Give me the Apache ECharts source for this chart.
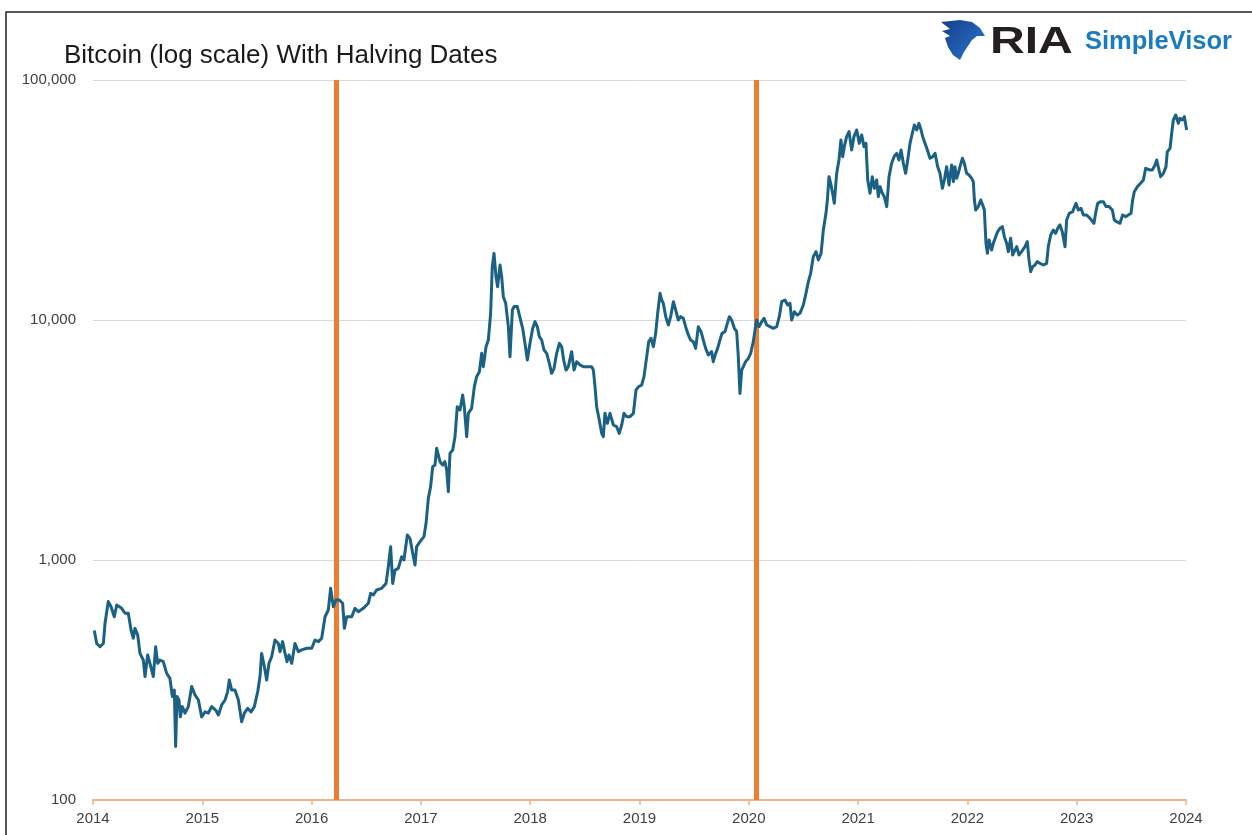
<!DOCTYPE html>
<html>
<head>
<meta charset="utf-8">
<title>Bitcoin (log scale) With Halving Dates</title>
<script src="https://cdn.jsdelivr.net/npm/echarts@6/dist/echarts.min.js"></script>
<style>
  html, body { margin: 0; padding: 0; background: #fff; }
  #chart { width: 1252px; height: 835px; }
</style>
</head>
<body>
<div id="chart"></div>
<script>
// price path (x = position on the year axis)
var dates2014 = [2014.012,2014.034,2014.064,2014.095,2014.110,2014.140,2014.165,2014.195,2014.217,2014.262,2014.293,2014.323,2014.348,2014.369,2014.384,2014.409,2014.430,2014.460,2014.476,2014.500,2014.521,2014.552,2014.573,2014.592,2014.613,2014.643,2014.674,2014.704,2014.726,2014.744,2014.756,2014.769,2014.787,2014.799,2014.817,2014.842,2014.872,2014.903,2014.933,2014.964,2014.994,2015.025,2015.055,2015.086,2015.122,2015.147,2015.177,2015.208,2015.232,2015.247,2015.269,2015.299,2015.330,2015.360,2015.385,2015.415,2015.446,2015.476,2015.507,2015.528,2015.543,2015.568,2015.589,2015.610,2015.635,2015.665,2015.696,2015.711,2015.735,2015.757,2015.775,2015.793,2015.818,2015.848,2015.879,2015.909,2015.955,2016.001,2016.031,2016.062];
var prices2014 = [508,449,435,449,545,671,639,580,649,629,600,600,511,472,519,487,408,383,327,402,371,327,435,371,383,377,337,321,270,287,167,270,261,222,245,230,245,297,274,261,222,233,230,245,237,226,249,261,283,316,287,287,261,212,230,241,233,245,283,327,408,359,316,371,396,464,449,415,457,408,377,402,371,449,415,422,429,429,464,457];

var dates2016 = [2016.092,2016.123,2016.153,2016.174,2016.199,2016.223,2016.254,2016.284,2016.300,2016.321,2016.367,2016.397,2016.428,2016.473,2016.519,2016.540,2016.565,2016.595,2016.641,2016.681,2016.702,2016.723,2016.742,2016.763,2016.793,2016.824,2016.845,2016.876,2016.900,2016.925,2016.946,2016.961,2016.992,2017.028,2017.047,2017.068,2017.089,2017.108,2017.129,2017.144,2017.175,2017.199,2017.220,2017.236,2017.251,2017.266,2017.291,2017.312,2017.333,2017.358,2017.382,2017.397,2017.419,2017.434,2017.464,2017.489,2017.510,2017.535,2017.556,2017.571,2017.596,2017.617,2017.638,2017.653,2017.669,2017.687,2017.702,2017.724,2017.739,2017.754,2017.776,2017.800,2017.815,2017.837,2017.852,2017.882];
var prices2016 = [472,580,619,762,639,681,681,660,519,580,580,629,609,629,660,726,715,750,762,799,938,1136,799,908,923,1032,1000,1271,1231,1066,953,1136,1192,1251,1422,1807,2021,2448,2488,2920,2568,2488,2568,2371,1926,2782,2873,3265,4354,4217,4870,4354,3265,4084,4284,5275,5806,6091,7262,6391,7743,8254,10660,16680,18950,15160,13770,16950,15160,12510,11730,9380,7035,11010,11370,11370];

var dates2018 = [2017.931,2017.952,2017.974,2017.998,2018.023,2018.044,2018.065,2018.084,2018.105,2018.126,2018.151,2018.175,2018.196,2018.218,2018.242,2018.267,2018.288,2018.309,2018.328,2018.349,2018.379,2018.401,2018.425,2018.456,2018.486,2018.517,2018.562,2018.578,2018.593,2018.608,2018.632,2018.654,2018.669,2018.684,2018.706,2018.730,2018.761,2018.791,2018.815,2018.837,2018.858,2018.883,2018.913,2018.944,2018.968,2018.992,2019.020,2019.041,2019.066,2019.084,2019.105,2019.127,2019.148,2019.166,2019.188,2019.203,2019.218,2019.240,2019.264,2019.285,2019.310,2019.331,2019.355,2019.377,2019.401,2019.422,2019.447,2019.468,2019.492,2019.514,2019.538,2019.563,2019.584,2019.605,2019.630,2019.660,2019.675,2019.697,2019.715,2019.736,2019.755,2019.782,2019.804,2019.822,2019.843,2019.868,2019.889,2019.904,2019.919,2019.935,2019.950,2019.971,2019.996,2020.017,2020.041];
var prices2018 = [9233,7993,6813,7993,9233,9842,9380,8521,8252,7499,7262,6597,5995,6290,7262,7993,7743,6705,6187,6391,7380,6187,6705,6494,6391,6391,6391,6187,5275,4354,3831,3371,3265,4084,3711,4084,3652,3593,3371,3652,4084,3956,3956,4084,5109,5275,5359,5806,7035,8122,8387,7743,8800,10660,12915,12115,11730,10325,9533,10325,11925,11005,10000,10325,10160,9380,8660,8252,8122,7618,9380,8942,8252,7618,7146,7380,6705,7262,7618,8252,8800,8942,9685,10325,10000,9233,8942,7035,4946,6187,6391,6705,6922,7262,8122];

var dates2020 = [2020.057,2020.072,2020.093,2020.118,2020.139,2020.164,2020.194,2020.224,2020.255,2020.279,2020.301,2020.331,2020.356,2020.377,2020.392,2020.417,2020.444,2020.468,2020.499,2020.523,2020.545,2020.566,2020.590,2020.615,2020.636,2020.661,2020.682,2020.706,2020.719,2020.734,2020.749,2020.767,2020.782,2020.804,2020.825,2020.843,2020.859,2020.874,2020.895,2020.917,2020.941,2020.962,2020.987,2021.011,2021.033,2021.054,2021.072,2021.088,2021.109,2021.130,2021.149,2021.170,2021.185,2021.201,2021.222,2021.240,2021.262,2021.283,2021.307,2021.329,2021.353,2021.374,2021.393,2021.414,2021.435,2021.454,2021.475,2021.496,2021.515,2021.536,2021.557,2021.576,2021.591,2021.612,2021.634,2021.658,2021.682,2021.704,2021.728,2021.749,2021.771,2021.789,2021.810,2021.832];
var prices2020 = [9087,10000,9380,9842,10162,9532,9380,9234,9380,10325,11925,12120,11550,11735,10000,10832,10493,10662,11550,12915,14445,15650,18365,19270,17790,18960,23715,27830,31620,39560,37110,33720,30630,40840,46420,56230,47930,52770,58070,60940,51100,58070,61900,54460,59000,52770,54460,38320,33720,39560,35370,38320,32650,35940,33720,32650,29680,39560,44960,47930,49490,46420,51100,44960,40840,46420,54460,59980,64930,61900,65980,61900,58070,54460,51100,47180,47930,49490,43540,40840,35370,38320,43540,36520];

var dates2022 = [2021.841,2021.856,2021.872,2021.886,2021.902,2021.917,2021.932,2021.954,2021.972,2021.993,2022.015,2022.039,2022.054,2022.064,2022.076,2022.100,2022.122,2022.140,2022.155,2022.170,2022.183,2022.198,2022.222,2022.237,2022.259,2022.277,2022.298,2022.320,2022.338,2022.359,2022.374,2022.396,2022.414,2022.429,2022.451,2022.472,2022.496,2022.527,2022.548,2022.564,2022.579,2022.597,2022.618,2022.640,2022.664,2022.695,2022.725,2022.740,2022.762,2022.786,2022.808,2022.826,2022.847,2022.868,2022.893,2022.908,2022.932,2022.963,2022.993,2023.015,2023.039,2023.061,2023.091,2023.122,2023.158,2023.173,2023.192,2023.219,2023.244,2023.268,2023.296,2023.326,2023.344,2023.366,2023.396,2023.420,2023.448,2023.472,2023.497,2023.512,2023.527,2023.555,2023.585,2023.610,2023.631,2023.649,2023.671,2023.692,2023.717,2023.732,2023.753,2023.768,2023.793,2023.817,2023.829,2023.854,2023.869,2023.884,2023.906,2023.930,2023.945,2023.967,2023.985,2024.006];
var prices2022 = [39560,44250,37700,43540,38930,40840,43540,47180,44960,40840,40200,38930,37700,31620,28730,29680,31620,30150,28730,20870,18960,21550,19570,20870,22250,23340,24100,24490,22250,20870,19270,21890,18660,19270,20210,18660,19270,20210,21200,17780,15900,16680,16950,17500,17220,16950,17220,20210,22610,23710,22970,24100,24890,23340,20210,26100,27830,28280,30630,28730,29190,27380,27380,26520,25290,27830,30630,31120,31120,29680,29680,28730,26100,25690,25290,27380,26950,27380,27830,31620,34250,35940,37110,38320,42850,43540,42170,42170,44250,46420,42170,39560,40840,43540,50270,51910,59980,68140,71470,65980,69230,68140,70350,61900];

var halvingDates = [2016.232, 2020.066];
var yearTicks = [2014, 2015, 2016, 2017, 2018, 2019, 2020, 2021, 2022, 2023, 2024];
var priceTicks = [100, 1000, 10000, 100000];

var dates = [].concat(dates2014, dates2016, dates2018, dates2020, dates2022);
var prices = [].concat(prices2014, prices2016, prices2018, prices2020, prices2022);
var seriesData = dates.map(function (d, i) { return [d, prices[i]]; });

var chart = echarts.init(document.getElementById('chart'));

var option = {
  backgroundColor: '#ffffff',
  animation: false,
  textStyle: { fontFamily: 'Liberation Sans, Arial, sans-serif' },
  title: {
    text: 'Bitcoin (log scale) With Halving Dates',
    left: 59,
    top: 38,
    textStyle: { fontSize: 26, fontWeight: 'normal', color: '#1a1a1a', fontFamily: 'Liberation Sans, Arial, sans-serif' }
  },
  grid: { left: 93, right: 66, top: 80, bottom: 35, containLabel: false, outerBoundsMode: 'none' },
  xAxis: {
    type: 'value',
    min: yearTicks[0],
    max: yearTicks[yearTicks.length - 1],
    interval: 1,
    axisLine: { show: true, lineStyle: { color: '#F4B183', width: 2 } },
    axisTick: { show: true, length: 5, lineStyle: { color: '#F4B183', width: 1.5 } },
    axisLabel: { color: '#404040', fontSize: 15, margin: 11,
      formatter: function (v) { return String(Math.round(v)); } },
    splitLine: { show: false }
  },
  yAxis: {
    type: 'log',
    logBase: 10,
    min: priceTicks[0],
    max: priceTicks[priceTicks.length - 1],
    axisLine: { show: false },
    axisTick: { show: false },
    axisLabel: { color: '#404040', fontSize: 15, margin: 17,
      formatter: function (v) { return Math.round(v).toLocaleString('en-US'); } },
    splitLine: { show: true, lineStyle: { color: '#d9d9d9', width: 1 } }
  },
  series: [{
    name: 'Bitcoin',
    type: 'line',
    data: seriesData,
    showSymbol: false,
    symbol: 'none',
    lineStyle: { color: '#1B6184', width: 3, join: 'round' },
    z: 3,
    markLine: {
      silent: true,
      symbol: ['none', 'none'],
      label: { show: false },
      lineStyle: { color: '#ED7D31', width: 5, type: 'solid' },
      data: halvingDates.map(function (d) { return { xAxis: d }; }),
      z: 2
    }
  }],
  graphic: [
    // frame around the picture
    { type: 'rect', shape: { x: 6, y: 12, width: 1300, height: 900 },
      style: { fill: 'none', stroke: '#222', lineWidth: 1.5 }, silent: true },
    // logo mark
    { type: 'polygon', shape: { points: [[941,22],[960,20],[972,22],[980,28],[985,36],[977,36],[972,40],[968,46],[964,52],[960,60],[953,55],[948,47],[945,38],[950,36],[942,31],[950,29]] },
      style: { fill: new echarts.graphic.LinearGradient(0, 0, 1, 1, [{ offset: 0, color: '#163d8a' }, { offset: 1, color: '#2b78cf' }]) }, silent: true },
    { type: 'text', x: 990, y: 24, scaleX: 1.3, style: { text: 'RIA', font: 'bold 37px "Liberation Sans", Arial, sans-serif', fill: '#231f20' }, silent: true },
    { type: 'text', x: 1085, y: 29, style: { text: 'SimpleVisor', font: 'bold 25.5px "Liberation Sans", Arial, sans-serif', fill: '#1b7bc2' }, silent: true }
  ]
};

chart.setOption(option);
</script>
</body>
</html>
